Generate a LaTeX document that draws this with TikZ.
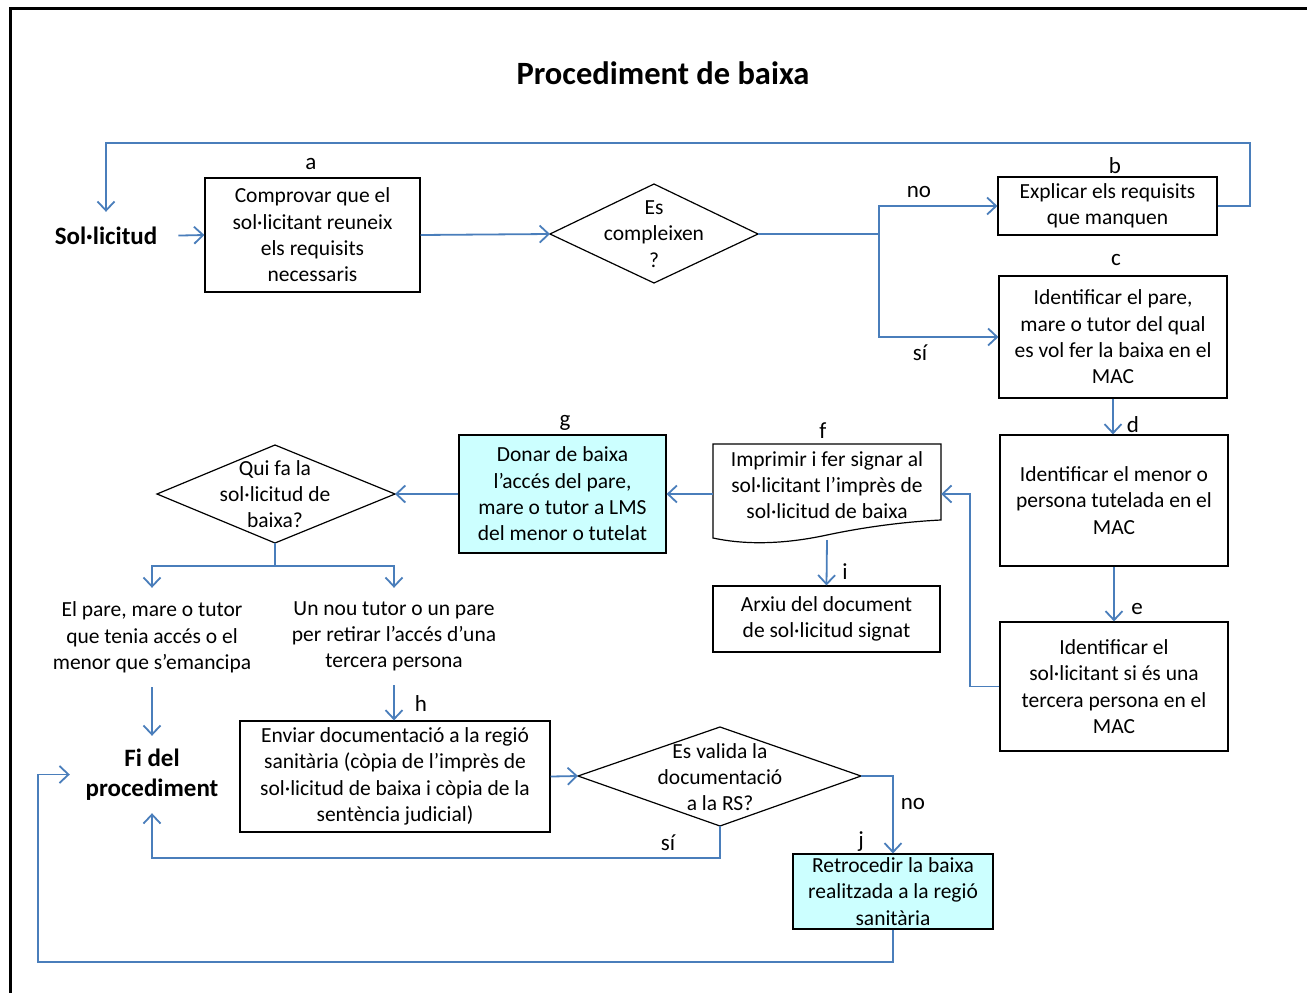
\documentclass[tikz,border=0pt]{standalone}
\usepackage{fontspec}
\setmainfont{Carlito}
\usetikzlibrary{arrows.meta}
\definecolor{lnblue}{HTML}{4A7EBB}
\definecolor{boxcyan}{HTML}{CCFFFF}
\begin{document}
\begin{tikzpicture}[x=1pt,y=-1pt,
  txt/.style={align=center,inner sep=0pt,font=\fontsize{21.5}{26.3}\selectfont},
  bigtxt/.style={align=center,inner sep=0pt,font=\bfseries\fontsize{25}{30}\selectfont},
  lbl/.style={inner sep=0pt,font=\fontsize{23}{27}\selectfont},
  box/.style={txt,draw=black,line width=1.2pt},
  cyanbox/.style={box,fill=boxcyan},
  shapeline/.style={draw=black,line width=1.2pt,line join=miter},
  conn/.style={draw=lnblue,line width=1.8pt},
  arr/.style={conn,-{Straight Barb[length=9pt,width=17pt]}}
]
\useasboundingbox (0,0) rectangle (1307,993);
\draw[line width=3pt] (10,993) -- (10,8) -- (1307,8);

\node[font=\bfseries\fontsize{32.5}{38}\selectfont,inner sep=0pt] (title) at (663,73) {Procediment de baixa};

% nodes
\node[bigtxt,minimum height=48pt] (sol) at (106,236) {Sol·licitud};
\node[box,minimum width=215pt,minimum height=114pt] (a) at (312.5,235) {Comprovar que el\\sol·licitant reuneix\\els requisits\\necessaris};
\node[box,minimum width=219pt,minimum height=58pt] (b) at (1107.5,206) {Explicar els requisits\\que manquen};
\node[box,minimum width=228pt,minimum height=122pt] (c) at (1113,337) {Identificar el pare,\\mare o tutor del qual\\es vol fer la baixa en el\\MAC};
\node[box,minimum width=228pt,minimum height=131pt] (d) at (1114,500.5) {Identificar el menor o\\persona tutelada en el\\MAC};
\node[box,minimum width=228pt,minimum height=129pt] (e) at (1114,686.5) {Identificar el\\sol·licitant si és una\\tercera persona en el\\MAC};
\node[txt,minimum width=228pt,minimum height=100pt] (f) at (827,494) {};
\draw[shapeline] (713,444) -- (941,444) -- (941,520) .. controls (900,522) and (860,528) .. (827,535) .. controls (790,543) and (750,546) .. (713,538) -- cycle;
\node[txt] (ftext) at (827,485) {Imprimir i fer signar al\\sol·licitant l’imprès de\\sol·licitud de baixa};
\node[box,minimum width=227pt,minimum height=66pt] (i) at (826.5,619) {Arxiu del document\\de sol·licitud signat};
\node[cyanbox,minimum width=207pt,minimum height=118pt] (g) at (562.5,494) {Donar de baixa\\l’accés del pare,\\mare o tutor a LMS\\del menor o tutelat};
\node[box,minimum width=310pt,minimum height=111pt] (h) at (395,776.5) {Enviar documentació a la regió\\sanitària (còpia de l’imprès de\\sol·licitud de baixa i còpia de la\\sentència judicial)};
\node[cyanbox,minimum width=200pt,minimum height=75pt] (j) at (893,891.5) {Retrocedir la baixa\\realitzada a la regió\\sanitària};
\node[txt,minimum height=99pt] (p1) at (152,637.5) {El pare, mare o tutor\\que tenia accés o el\\menor que s’emancipa};
\node[txt,minimum height=97pt] (p2) at (394,636.5) {Un nou tutor o un pare\\per retirar l’accés d’una\\tercera persona};
\node[bigtxt,minimum width=164pt,minimum height=77pt] (fi) at (152,774.5) {Fi del\\procediment};

% diamonds
\coordinate (d1w) at (550,234); \coordinate (d1n) at (654,184);
\coordinate (d1e) at (758,234); \coordinate (d1s) at (654,283);
\draw[shapeline] (d1w) -- (d1n) -- (d1e) -- (d1s) -- cycle;
\node[txt] (d1) at (654,234) {Es\\compleixen\\?};

\coordinate (d2w) at (157,494); \coordinate (d2n) at (275,445);
\coordinate (d2e) at (395,494); \coordinate (d2s) at (275,543);
\draw[shapeline] (d2w) -- (d2n) -- (d2e) -- (d2s) -- cycle;
\node[txt] (d2) at (275,494) {Qui fa la\\sol·licitud de\\baixa?};

\coordinate (d3w) at (578,776); \coordinate (d3n) at (720,727);
\coordinate (d3e) at (861,776); \coordinate (d3s) at (720,826);
\draw[shapeline] (d3w) -- (d3n) -- (d3e) -- (d3s) -- cycle;
\node[txt] (d3) at (720,777) {Es valida la\\documentació\\a la RS?};

% letter labels
\node[lbl] (la) at (311,164) {a};
\node[lbl] (lb) at (1115,166) {b};
\node[lbl] (lc) at (1116,260) {c};
\node[lbl] (ld) at (1133,425) {d};
\node[lbl] (le) at (1137,609) {e};
\node[lbl] (lf) at (823,431) {f};
\node[lbl] (lg) at (565,423) {g};
\node[lbl] (lh) at (421,704) {h};
\node[lbl] (li) at (845,572) {i};
\node[lbl] (lj) at (861,842) {j};
\node[lbl] (no1) at (919,192) {no};
\node[lbl] (si1) at (920,353) {sí};
\node[lbl] (no2) at (913,804) {no};
\node[lbl] (si2) at (668,843) {sí};

% connectors
\draw[arr,shorten <=21pt] (sol.east) -- (a.west);
\draw[arr] (a.east) -- (d1w);
\coordinate (split1) at (879,234);
\draw[conn] (d1e) -- (split1);
\draw[arr] (split1) |- (b.west);
\draw[arr] (split1) |- (c.west);
\draw[arr] (b.east) -| (1250,143) -| (sol.north);
\draw[arr] (c.south) -- (c.south |- d.north);
\draw[arr] (d.south) -- (d.south |- e.north);
\draw[arr] (e.west) -| (970,494) -- (f.east);
\draw[arr] (f.west) -- (g.east);
\draw[arr] (f.south) ++(0,-4) -- (i.north);
\draw[arr] (g.west) -- (d2e);
\coordinate (split2) at (275,566);
\draw[conn] (d2s) -- (split2);
\draw[arr] (split2) -| (p1.north);
\draw[arr] (split2) -| (p2.north);
\draw[arr] (p1.south) -- (fi.north);
\draw[arr] (p2.south) -- (p2.south |- h.north);
\draw[arr] (h.east) -- (d3w);
\draw[arr] (d3e) -| (j.north);
\draw[arr] (d3s) |- (152,858) -- (fi.south);
\draw[arr] (j.south) |- (38,962) |- (fi.west);
\end{tikzpicture}
\end{document}
